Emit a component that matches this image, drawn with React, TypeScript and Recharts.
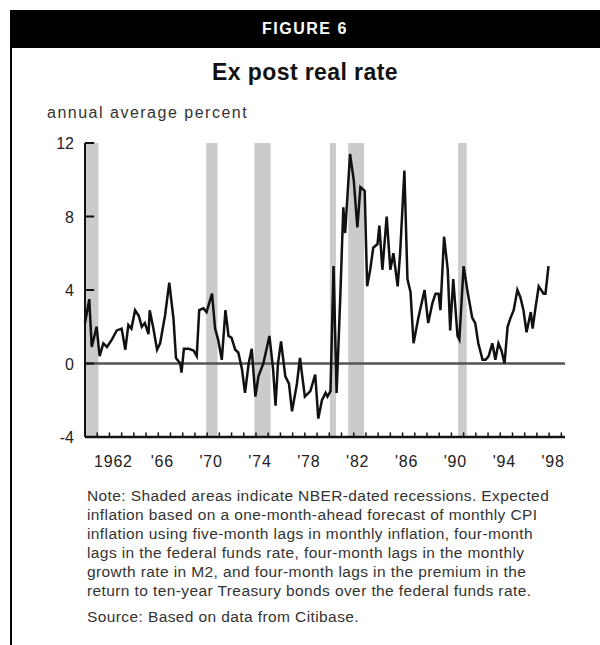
import React from 'react'
import { LineChart, Line, XAxis, YAxis, ReferenceArea, ReferenceLine } from 'recharts'

// decimal year of each reading, and the ex post real rate (percent)
const periods = [
  1960.0, 1960.35, 1960.55, 1960.95, 1961.2, 1961.5, 1961.8, 1962.2, 1962.6, 1963.0,
  1963.3, 1963.55, 1963.8, 1964.1, 1964.4, 1964.65, 1964.9, 1965.2, 1965.3, 1965.6,
  1965.9, 1966.15, 1966.55, 1966.9, 1967.25, 1967.45, 1967.8, 1967.9, 1968.1, 1968.5,
  1968.9, 1969.15, 1969.35, 1969.7, 1969.95, 1970.4, 1970.65, 1970.9, 1971.2, 1971.5,
  1971.75, 1972.0, 1972.3, 1972.55, 1972.85, 1973.1, 1973.4, 1973.65, 1973.95, 1974.2,
  1974.6, 1975.1, 1975.4, 1975.6, 1975.8, 1976.05, 1976.4, 1976.7, 1976.95, 1977.35,
  1977.6, 1978.0, 1978.45, 1978.85, 1979.1, 1979.4, 1979.7, 1979.85, 1980.1, 1980.35,
  1980.6, 1980.9, 1981.15, 1981.3, 1981.7, 1982.0, 1982.3, 1982.55, 1982.9, 1983.1,
  1983.35, 1983.6, 1983.95, 1984.1, 1984.35, 1984.7, 1985.0, 1985.25, 1985.6, 1985.8,
  1986.15, 1986.4, 1986.65, 1986.9, 1987.3, 1987.8, 1988.1, 1988.45, 1988.7, 1988.95,
  1989.1, 1989.4, 1989.7, 1989.9, 1990.15, 1990.5, 1990.65, 1991.0, 1991.3, 1991.7,
  1991.95, 1992.2, 1992.55, 1992.8, 1993.05, 1993.35, 1993.6, 1993.85, 1994.1, 1994.35,
  1994.6, 1994.85, 1995.1, 1995.4, 1995.65, 1995.9, 1996.15, 1996.5, 1996.65, 1996.9,
  1997.15, 1997.55, 1997.7, 1997.95,
]

const realRate = [
  2.2, 3.5, 0.9, 2.0, 0.4, 1.1, 0.9, 1.3, 1.8, 1.9,
  0.75, 2.1, 1.9, 2.9, 2.6, 2.0, 2.2, 1.6, 2.9, 1.9,
  0.75, 1.1, 2.6, 4.4, 2.4, 0.3, 0.0, -0.5, 0.8, 0.8,
  0.7, 0.4, 2.9, 3.0, 2.8, 3.8, 1.9, 1.3, 0.2, 2.9,
  1.5, 1.4, 0.75, 0.6, -0.3, -1.6, 0.0, 0.8, -1.8, -0.7,
  0.0, 1.5, -0.3, -2.3, 0.0, 1.2, -0.7, -1.1, -2.6, -1.1,
  0.3, -1.8, -1.5, -0.6, -3.0, -2.0, -1.6, -1.8, -1.5, 5.3,
  -1.6, 3.6, 8.5, 7.1, 11.4, 10.0, 7.4, 9.6, 9.4, 4.2,
  5.1, 6.3, 6.5, 7.5, 5.1, 8.0, 5.1, 6.0, 4.2, 6.0,
  10.5, 4.6, 3.9, 1.1, 2.5, 4.0, 2.2, 3.3, 3.8, 3.8,
  2.9, 6.9, 5.1, 1.8, 4.6, 1.5, 1.3, 5.3, 4.0, 2.5,
  2.2, 1.1, 0.2, 0.2, 0.4, 1.1, 0.2, 1.1, 0.7, 0.0,
  2.0, 2.5, 2.9, 4.0, 3.6, 2.9, 1.7, 2.8, 1.9, 3.1,
  4.2, 3.8, 3.8, 5.3,
]

// NBER-dated recessions (start, end)
const recessionStart = [1960.0, 1969.92, 1973.87, 1980.05, 1981.55, 1990.55]
const recessionEnd = [1961.1, 1970.85, 1975.2, 1980.55, 1982.85, 1991.25]

const yTicks = [-4, 0, 4, 8, 12]
const yearTicks = Array.from({ length: 40 }, (_, i) => 1960 + i)
const labelYears = [1962, 1966, 1970, 1974, 1978, 1982, 1986, 1990, 1994, 1998]
const yearLabels = ['1962', "'66", "'70", "'74", "'78", "'82", "'86", "'90", "'94", "'98"]

const X_MIN = 1960
const X_MAX = 1999.3
const Y_MIN = -4
const Y_MAX = 12

const data = periods.map((t, i) => ({ t, rate: realRate[i] }))

const font = '"Liberation Sans", Arial, sans-serif'

function YearTick(props: any) {
  const { x, y, payload } = props
  const idx = labelYears.indexOf(payload.value)
  if (idx < 0) return <g />
  return (
    <text x={x + 4} y={y + 20} textAnchor="middle" fontSize={16} letterSpacing={0.8} fill="#222" fontFamily={font}>
      {yearLabels[idx]}
    </text>
  )
}

function ValueTick(props: any) {
  const { x, y, payload } = props
  return (
    <text x={x} y={y + 6} textAnchor="end" fontSize={16} fill="#222" fontFamily={font}>
      {payload.value}
    </text>
  )
}

export default function App() {
  return (
    <div style={{ position: 'absolute', left: 0, top: 0, width: 600, height: 645, background: '#fff', fontFamily: font }}>
      <div style={{ position: 'absolute', left: 10, top: 10, width: 590, height: 38, background: '#000', color: '#fff', fontWeight: 'bold', fontSize: 16, textAlign: 'center', lineHeight: '38px', letterSpacing: 1.5 }}>
        FIGURE 6
      </div>
      <div style={{ position: 'absolute', left: 10, top: 48, width: 2, height: 597, background: '#000' }} />
      <div style={{ position: 'absolute', left: 10, top: 59, width: 590, textAlign: 'center', fontWeight: 'bold', fontSize: 23, letterSpacing: 0.4, color: '#111' }}>
        Ex post real rate
      </div>
      <div style={{ position: 'absolute', left: 47, top: 104, fontSize: 16, letterSpacing: 1.5, color: '#333' }}>
        annual average percent
      </div>
      <div style={{ position: 'absolute', left: 0, top: 0 }}>
        <LineChart width={600} height={480} data={data} margin={{ top: 143, right: 35, bottom: 13, left: 45 }}>
          {recessionStart.map((s, i) => (
            <ReferenceArea key={s} x1={s} x2={recessionEnd[i]} y1={Y_MIN} y2={Y_MAX} fill="#cbcbcb" fillOpacity={1} stroke="none" />
          ))}
          <XAxis
            dataKey="t"
            type="number"
            domain={[X_MIN, X_MAX]}
            ticks={yearTicks}
            interval={0}
            tickSize={0}
            tickMargin={10}
            height={30}
            axisLine={false}
            tickLine={false}
            tick={<YearTick />}
          />
          <YAxis
            type="number"
            domain={[Y_MIN, Y_MAX]}
            ticks={yTicks}
            interval={0}
            tickSize={0}
            tickMargin={11}
            width={40}
            axisLine={false}
            tickLine={false}
            tick={<ValueTick />}
          />
          <ReferenceLine y={0} stroke="#555" strokeWidth={2.5} />
          <Line
            type="linear"
            dataKey="rate"
            stroke="#111"
            strokeWidth={2.5}
            dot={false}
            isAnimationActive={false}
          />
          {/* year ticks pointing up from the base line */}
          {yearTicks.map((yr) => (
            <ReferenceLine
              key={'xt' + yr}
              segment={[{ x: yr, y: Y_MIN }, { x: yr, y: Y_MIN + 0.25 }]}
              stroke="#111"
              strokeWidth={1.5}
            />
          ))}
          {/* value ticks pointing into the plot */}
          {yTicks.filter((v) => v !== Y_MIN).map((v) => (
            <ReferenceLine
              key={'yt' + v}
              segment={[{ x: X_MIN, y: v }, { x: X_MIN + 0.75, y: v }]}
              stroke="#111"
              strokeWidth={2}
            />
          ))}
          <ReferenceLine y={Y_MIN} stroke="#111" strokeWidth={2.5} />
          <ReferenceLine x={X_MIN} stroke="#111" strokeWidth={2} />
        </LineChart>
      </div>
      <div style={{ position: 'absolute', left: 87, top: 486, width: 500, fontSize: 15.5, letterSpacing: 0.4, lineHeight: '19px', color: '#333' }}>
        <div>Note: Shaded areas indicate NBER-dated recessions. Expected</div>
        <div>inflation based on a one-month-ahead forecast of monthly CPI</div>
        <div>inflation using five-month lags in monthly inflation, four-month</div>
        <div>lags in the federal funds rate, four-month lags in the monthly</div>
        <div>growth rate in M2, and four-month lags in the premium in the</div>
        <div>return to ten-year Treasury bonds over the federal funds rate.</div>
        <div style={{ marginTop: 7 }}>Source: Based on data from Citibase.</div>
      </div>
    </div>
  )
}
